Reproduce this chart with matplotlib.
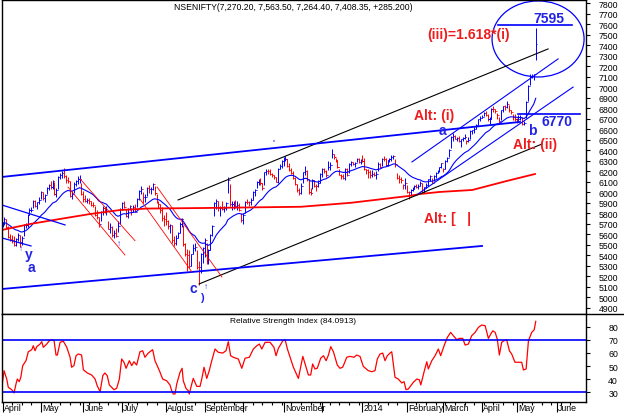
import numpy as np
import pandas as pd
import matplotlib
matplotlib.use('Agg')
import matplotlib.pyplot as plt
from matplotlib.patches import Ellipse
from matplotlib.lines import Line2D
from matplotlib.transforms import blended_transform_factory

plt.rcParams['font.family'] = ['Liberation Sans', 'DejaVu Sans']

# daily NIFTY closes / highs / lows, Apr 2013 - 16 May 2014 (one row per month)
closes = [
    5705, 5748, 5673, 5574, 5553, 5542, 5495, 5558, 5594, 5528, 5569, 5688, 5689, 5783, 5834, 5836, 5916, 5871, 5905, 5930,
    5999, 5944, 5971, 6044, 6069, 6050, 6107, 5980, 6019, 6146, 6169, 6187, 6156, 6114, 6105, 5967, 5983, 6083, 6104, 6124, 6124, 5985,
    5939, 5919, 5923, 5921, 5881, 5878, 5788, 5760, 5699, 5808, 5850, 5813, 5822, 5655, 5667, 5590, 5609, 5588, 5682, 5842,
    5898, 5857, 5770, 5837, 5868, 5811, 5860, 5816, 5935, 6009, 6030, 5955, 5956, 6039, 6029, 6031, 6077, 5990, 5907, 5886, 5831, 5755, 5742,
    5728, 5678, 5685, 5542, 5519, 5566, 5612, 5699, 5742, 5508, 5415, 5401, 5302, 5408, 5471, 5476, 5287, 5285, 5409, 5471,
    5550, 5341, 5448, 5592, 5680, 5896, 5913, 5850, 5850, 5840, 5850, 5899, 6115, 5889, 5889, 5892, 5873, 5882, 5833, 5735,
    5780, 5909, 5907, 5906, 5929, 6007, 6020, 6096, 6113, 6089, 6045, 6189, 6204, 6203, 6178, 6164, 6144, 6101, 6220, 6251, 6299,
    6307, 6317, 6254, 6215, 6187, 6140, 6078, 6018, 5989, 6056, 6189, 6204, 6122, 5999, 5995, 6115, 6060, 6058, 6091, 6176,
    6218, 6201, 6160, 6241, 6260, 6364, 6333, 6308, 6237, 6168, 6154, 6139, 6217, 6166, 6274, 6284, 6268, 6278, 6313, 6291, 6304,
    6301, 6221, 6211, 6191, 6162, 6174, 6168, 6171, 6273, 6242, 6321, 6319, 6262, 6304, 6314, 6338, 6346, 6267, 6136, 6126, 6121, 6074, 6090,
    6002, 6001, 6022, 6036, 6063, 6053, 6063, 6084, 6001, 6048, 6073, 6127, 6153, 6091, 6155, 6186, 6200, 6239, 6277,
    6221, 6298, 6329, 6401, 6527, 6537, 6512, 6516, 6493, 6504, 6517, 6524, 6484, 6494, 6584, 6590, 6601, 6641, 6696, 6704,
    6721, 6752, 6736, 6695, 6695, 6797, 6796, 6776, 6734, 6675, 6779, 6818, 6815, 6841, 6782, 6761, 6715, 6696,
    6694, 6700, 6716, 6653, 6659, 6858, 7014, 7108, 7109, 7123, 7408.35,
]
highs = [
    5720, 5762, 5749, 5677, 5605, 5597, 5581, 5568, 5610, 5593, 5580, 5698, 5712, 5793, 5847, 5858, 5925, 5922, 5912, 5954,
    6010, 6007, 5985, 6051, 6082, 6111, 6113, 6100, 6045, 6156, 6185, 6204, 6229, 6165, 6148, 6105, 6012, 6094, 6116, 6159, 6162, 6089,
    6011, 5970, 5950, 5946, 5918, 5904, 5867, 5829, 5765, 5822, 5867, 5862, 5871, 5731, 5705, 5681, 5638, 5656, 5722, 5849,
    5905, 5920, 5840, 5847, 5880, 5852, 5881, 5885, 5945, 6023, 6062, 5999, 5979, 6052, 6066, 6052, 6093, 6060, 5980, 5917, 5885, 5859, 5780,
    5808, 5739, 5694, 5689, 5582, 5592, 5625, 5718, 5754, 5692, 5517, 5460, 5454, 5417, 5505, 5519, 5455, 5344, 5425, 5483,
    5563, 5515, 5460, 5604, 5689, 5905, 5933, 5913, 5865, 5915, 5870, 5910, 6142, 6080, 5920, 5915, 5925, 5920, 5899, 5798,
    5800, 5918, 5939, 5919, 5942, 6013, 6034, 6107, 6125, 6140, 6089, 6195, 6218, 6220, 6225, 6184, 6165, 6145, 6228, 6269, 6309,
    6332, 6342, 6320, 6275, 6230, 6200, 6148, 6082, 6040, 6084, 6196, 6252, 6210, 6128, 6040, 6130, 6120, 6075, 6120, 6182,
    6228, 6227, 6213, 6300, 6284, 6415, 6362, 6326, 6305, 6223, 6175, 6178, 6227, 6236, 6280, 6295, 6288, 6288, 6324, 6326, 6314,
    6358, 6329, 6224, 6221, 6212, 6212, 6190, 6200, 6288, 6280, 6327, 6347, 6323, 6307, 6330, 6355, 6355, 6320, 6187, 6163, 6150, 6082, 6133,
    6074, 6017, 6035, 6048, 6071, 6080, 6077, 6106, 6085, 6052, 6089, 6130, 6160, 6135, 6162, 6192, 6212, 6243, 6282,
    6233, 6303, 6336, 6411, 6537, 6562, 6545, 6528, 6532, 6509, 6531, 6553, 6498, 6522, 6590, 6592, 6621, 6653, 6702, 6730,
    6733, 6763, 6777, 6746, 6719, 6803, 6819, 6794, 6759, 6719, 6786, 6823, 6829, 6869, 6832, 6787, 6748, 6742,
    6711, 6733, 6733, 6713, 6681, 6870, 7020, 7130, 7130, 7131, 7563.5,
]
lows = [
    5670, 5690, 5664, 5565, 5534, 5513, 5484, 5488, 5537, 5477, 5502, 5587, 5659, 5666, 5780, 5810, 5850, 5862, 5840, 5891,
    5932, 5923, 5910, 5982, 6021, 6030, 6036, 5970, 5955, 6036, 6125, 6137, 6138, 6089, 6090, 5955, 5938, 5991, 6058, 6082, 6092, 5971,
    5910, 5910, 5897, 5891, 5868, 5862, 5772, 5744, 5669, 5725, 5780, 5800, 5788, 5648, 5615, 5578, 5566, 5573, 5624, 5700,
    5827, 5850, 5761, 5751, 5828, 5779, 5812, 5810, 5856, 5929, 5988, 5896, 5904, 5963, 5997, 5987, 6026, 5975, 5900, 5850, 5802, 5727, 5676,
    5686, 5652, 5615, 5519, 5486, 5495, 5560, 5610, 5667, 5485, 5394, 5254, 5280, 5300, 5413, 5444, 5274, 5119, 5230, 5330,
    5380, 5318, 5318, 5453, 5584, 5770, 5845, 5824, 5777, 5830, 5808, 5834, 5990, 5872, 5834, 5845, 5852, 5835, 5820, 5718,
    5700, 5804, 5888, 5865, 5880, 5925, 5969, 6043, 6072, 6073, 6021, 6067, 6162, 6175, 6163, 6142, 6125, 6094, 6087, 6222, 6227,
    6251, 6297, 6240, 6206, 6171, 6130, 6068, 6004, 5972, 5988, 6093, 6169, 6109, 5985, 5972, 6028, 6051, 6012, 6054, 6090,
    6150, 6188, 6149, 6210, 6215, 6325, 6317, 6287, 6230, 6160, 6129, 6130, 6113, 6152, 6180, 6252, 6260, 6240, 6285, 6280, 6265,
    6289, 6216, 6170, 6139, 6133, 6144, 6158, 6128, 6200, 6230, 6251, 6301, 6251, 6248, 6286, 6300, 6318, 6245, 6130, 6085, 6090, 6027, 6029,
    5990, 5933, 5967, 6013, 6031, 6040, 6036, 6060, 5991, 5992, 6040, 6060, 6110, 6090, 6110, 6140, 6186, 6193, 6230,
    6195, 6217, 6288, 6333, 6426, 6486, 6504, 6492, 6482, 6432, 6490, 6512, 6457, 6476, 6510, 6553, 6569, 6601, 6639, 6677,
    6704, 6722, 6725, 6680, 6650, 6701, 6768, 6752, 6700, 6650, 6692, 6762, 6781, 6801, 6767, 6748, 6684, 6677,
    6660, 6683, 6684, 6643, 6638, 6710, 6870, 7023, 7090, 7070, 7264.4,
]

# RSI(14): trading-day index and value
rsi_day = [0, 0.8, 2.2, 3.0, 4.8, 6.0, 7.0, 7.7, 8.7, 9.5, 10.5, 12.2, 13.4, 15.2, 16.0, 16.9, 17.8, 19.5,
           20.4, 21.2, 23.0, 24.3, 25.6, 26.8, 27.8, 28.5, 29.9, 31.6, 33.4, 35.1, 35.9, 37.1, 38.2, 39.4,
           41.1, 42.0, 44.1, 46.3, 48.1, 49.2, 50.7, 52.1, 53.2, 54.4, 55.5, 56.7, 57.9, 59.3, 60.7, 61.9,
           63.1, 64.2, 65.9, 67.1, 68.3, 69.7, 71.4, 72.8, 74.0, 75.7, 78.0, 79.2, 81.5, 83.2, 85.3, 87.0,
           87.9, 88.7, 89.6, 90.5, 92.2, 93.3, 93.9, 95.3, 96.5, 97.0, 98.3, 99.1, 100.9, 102.6, 103.5, 104.7,
           106.1, 107.4, 108.7, 110.4, 112.1, 114.4, 116.1, 117.3, 118.5, 119.9, 122.5, 124.3, 126.0, 128.2,
           130.3, 132.1, 133.4, 134.7, 136.4, 139.0, 141.0, 142.1, 143.3, 145.6, 146.8, 148.0, 149.4, 151.1,
           153.7, 156.0, 157.2, 158.9, 160.1, 161.1, 162.3, 163.5, 165.3, 166.7, 168.1, 169.3, 170.5, 171.9,
           173.9, 175.3, 176.7, 177.9, 178.8, 180.5, 182.6, 184.0, 185.7, 187.4, 190.0, 191.8, 193.5, 194.7,
           196.1, 197.5, 198.7, 199.9, 201.3, 202.2, 203.9, 205.6, 207.4, 208.6, 209.6, 210.8, 213.4, 215.2,
           216.5, 217.3, 219.0, 220.4, 221.2, 223.0, 224.7, 226.4, 227.6, 229.4, 231.1, 232.8, 234.2, 236.0,
           237.3, 239.1, 240.3, 242.0, 243.7, 245.5, 247.2, 248.9, 250.7, 252.4, 253.6, 254.7, 255.9, 257.0,
           258.1, 259.3, 260.5, 261.9, 263.3, 264.5, 266.2, 268.0, 269.7, 270.6, 272.0, 273.2, 274.9, 276.2, 277]
rsi_val = [37.6, 46.5, 40.1, 33.8, 32.0, 29.5, 36.3, 40.1, 38.1, 41.4, 50.3, 54.1, 60.9, 62.5, 65.5, 61.7, 64.8, 66.8,
           68.6, 64.3, 66.8, 69.3, 70.1, 69.3, 58.4, 58.4, 68.1, 68.9, 64.3, 56.7, 49.1, 50.3, 57.9, 59.2,
           58.4, 47.2, 44.7, 43.2, 40.1, 35.0, 30.5, 42.7, 44.7, 42.7, 35.6, 33.8, 32.0, 33.0, 40.1, 55.4,
           52.9, 48.3, 54.1, 50.3, 53.3, 50.8, 60.9, 61.7, 56.7, 59.9, 62.5, 54.1, 46.5, 40.1, 38.8, 35.6,
           31.2, 28.7, 28.7, 36.3, 45.2, 48.3, 38.8, 33.0, 31.2, 28.7, 36.3, 40.6, 34.5, 34.5, 40.1, 49.1,
           40.6, 46.5, 54.1, 63.0, 60.5, 59.9, 61.7, 68.6, 57.9, 56.7, 55.4, 48.3, 56.0, 56.7,
           63.0, 65.5, 66.8, 63.0, 68.1, 68.1, 64.3, 57.9, 63.5, 69.3, 70.1, 63.0, 56.7, 49.1,
           40.6, 57.4, 51.6, 43.2, 43.2, 51.6, 47.8, 48.3, 56.0, 57.9, 54.1, 58.4, 64.8, 60.9,
           50.8, 48.3, 49.1, 53.3, 56.7, 57.4, 56.7, 58.4, 57.4, 49.8, 46.5, 45.7, 46.5, 55.4,
           59.2, 59.9, 54.1, 57.9, 59.9, 60.9, 41.4, 40.1, 37.1, 38.1, 32.0, 32.5, 37.6, 40.1,
           39.6, 35.6, 45.7, 53.3, 47.8, 54.1, 57.9, 63.0, 57.9, 65.5, 71.9, 75.7, 73.1, 70.1,
           71.1, 71.1, 66.0, 66.8, 73.1, 75.7, 79.5, 81.3, 80.8, 71.1, 74.4, 76.9, 75.7, 70.6,
           58.4, 68.1, 69.3, 70.1, 61.7, 59.2, 52.9, 52.9, 52.9, 47.0, 47.8, 69.3, 75.7, 77.7, 84.09]

# slow red average (day index, level)
slow_ma_day = [-0.3, 14.3, 29.9, 45.5, 61, 75, 103, 155, 181, 212, 217, 227, 244, 252, 262, 276.6]
slow_ma_val = [5641, 5698, 5746, 5793, 5831, 5845, 5850, 5862, 5900, 5967, 5984, 6003, 6022, 6060, 6108, 6174]

month_starts = [0, 20, 42, 62, 85, 105, 125, 146, 166, 187, 210, 229, 249, 267, 288]
month_names = ['April', 'May', 'June', 'July', 'August', 'September', '', 'November', '',
               '2014', 'February', 'March', 'April', 'May', 'June']

# trend lines: (day0, price0, day1, price1, colour, width)
BLUE = '#0000ff'
RED = '#ff0000'
trend_lines = [
    (91.2, 5927, 283.4, 7365, 'black', 0.8),
    (102.1, 5127, 280.3, 6460, 'black', 0.8),
    (-0.3, 6146, 268.8, 6670, BLUE, 1.3),
    (-0.3, 5079, 249.1, 5489, BLUE, 1.3),
    (-0.3, 5879, 32.5, 5689, BLUE, 0.9),
    (-0.3, 5565, 14.8, 5489, BLUE, 0.9),
    (212.7, 6289, 288.6, 7270, BLUE, 0.8),
    (215.8, 5984, 296.4, 7002, BLUE, 0.8),
    (40.3, 6127, 68.8, 5539, RED, 0.6),
    (34.0, 6050, 63.6, 5403, RED, 0.6),
    (80.3, 6050, 114.0, 5193, RED, 0.6),
    (71.4, 5936, 98.4, 5241, RED, 0.6),
    (267.8, 6750, 300.0, 6750, BLUE, 1.2),
    (257.4, 7596, 295.8, 7596, BLUE, 1.2),
]

# wave labels: (text, day, price, colour, size)
TXT_BLUE = '#2323e6'
TXT_RED = '#ee1c1c'
labels = [
    ('(iii)=1.618*(i)', 242.3, 7508, TXT_RED, 10),
    ('7595', 283.9, 7655, TXT_BLUE, 10),
    ('Alt: (i)', 224.2, 6738, TXT_RED, 10),
    ('a', 228.5, 6595, TXT_BLUE, 10),
    ('6770', 288.1, 6679, TXT_BLUE, 10),
    ('b', 275.1, 6590, TXT_BLUE, 10),
    ('Alt: (ii)', 276.6, 6460, TXT_RED, 10),
    ('Alt: [   |', 231.4, 5755, TXT_RED, 10),
    ('y', 13.8, 5410, TXT_BLUE, 10),
    ('a', 14.8, 5285, TXT_BLUE, 10),
    ('c', 99.0, 5090, TXT_BLUE, 10),
    (')', 103.6, 5000, TXT_BLUE, 8),
    ('\u2191', 9.6, 5460, TXT_BLUE, 6),
    ('\u2191', 60.5, 5517, TXT_BLUE, 6),
    ('\u2191', 105.7, 5100, TXT_BLUE, 6),
    ("'", 141.0, 6485, TXT_BLUE, 6),
]

closes = np.array(closes, dtype=float)
highs = np.array(highs, dtype=float)
lows = np.array(lows, dtype=float)
assert len(closes) == len(highs) == len(lows) == 278
assert len(rsi_day) == len(rsi_val)

W, H = 624, 414
fig = plt.figure(figsize=(W / 100, H / 100), dpi=100)
ax = fig.add_axes([2 / W, 1 - 315 / H, 584 / W, 314 / H])
ax_r = fig.add_axes([2 / W, 1 - 403 / H, 584 / W, 88 / H])

x = np.arange(len(closes))
opens = np.r_[closes[0], closes[:-1]]
cols = np.where(closes >= opens, BLUE, RED)

ax.vlines(x, lows, highs, colors=cols, lw=0.7)
ax.hlines(closes, x, x + 0.55, colors=cols, lw=0.7)
ax.hlines(opens, x - 0.55, x, colors=cols, lw=0.7)

ema = pd.Series(closes).ewm(span=20, adjust=False).mean()
ax.plot(x, ema, color=BLUE, lw=0.8)
ax.plot(slow_ma_day, slow_ma_val, color=RED, lw=1.3)

for d0, p0, d1, p1, c, w in trend_lines:
    ax.plot([d0, d1], [p0, p1], color=c, lw=w)

ax.add_patch(Ellipse((278.2, 7460), 47.8, 724, fill=False, ec=BLUE, lw=0.9))

for t, d, p, c, s in labels:
    ax.text(d, p, t, color=c, fontsize=s, fontweight='bold', ha='center', va='center')

ax.set_xlim(-0.26, 303.1)
ax.set_ylim(4841, 7831)
ax.set_xticks([])
ax.yaxis.tick_right()
ax.set_yticks(range(4900, 7801, 100))
ax.tick_params(axis='y', direction='out', length=3, width=0.8, labelsize=6.3, pad=20)
for lab in ax.get_yticklabels():
    lab.set_ha('right')

# RSI panel
ax_r.plot(rsi_day, rsi_val, color=RED, lw=0.9)
ax_r.axhline(70, color=BLUE, lw=1.2)
ax_r.axhline(30, color=BLUE, lw=1.2)
ax_r.set_xlim(-0.26, 303.1)
ax_r.set_ylim(22.6, 89.7)
ax_r.yaxis.tick_right()
ax_r.set_yticks(range(30, 81, 10))
ax_r.tick_params(axis='y', direction='out', length=3, width=0.8, labelsize=6.3, pad=20)
for lab in ax_r.get_yticklabels():
    lab.set_ha('right')
ax_r.set_xticks(month_starts)
ax_r.set_xticklabels([])
ax_r.set_xticks(np.arange(0, 300, 5), minor=True)
ax_r.tick_params(axis='x', which='major', direction='out', length=7.5, width=0.8)
ax_r.tick_params(axis='x', which='minor', direction='out', length=2.2, width=0.8)
ax_r.spines['top'].set_visible(False)

trans = blended_transform_factory(ax_r.transData, ax_r.transAxes)
for m, name in zip(month_starts, month_names):
    ax_r.text(m + 0.7, -0.06, name, transform=trans, fontsize=6.3, ha='left', va='center')

for a in (ax, ax_r):
    for s in a.spines.values():
        s.set_linewidth(1.0)
        s.set_color('black')

fig.add_artist(Line2D([2 / W, 1], [1 - 315 / H, 1 - 315 / H], color='black', lw=1.0))

fig.text(293 / W, 1 - 8 / H, 'NSENIFTY(7,270.20, 7,563.50, 7,264.40, 7,408.35, +285.200)',
         ha='center', va='center', fontsize=6.2)
fig.text(292.5 / W, 1 - 322 / H, 'Relative Strength Index (84.0913)',
         ha='center', va='center', fontsize=6.0)

fig.savefig('out.png', dpi=100)
